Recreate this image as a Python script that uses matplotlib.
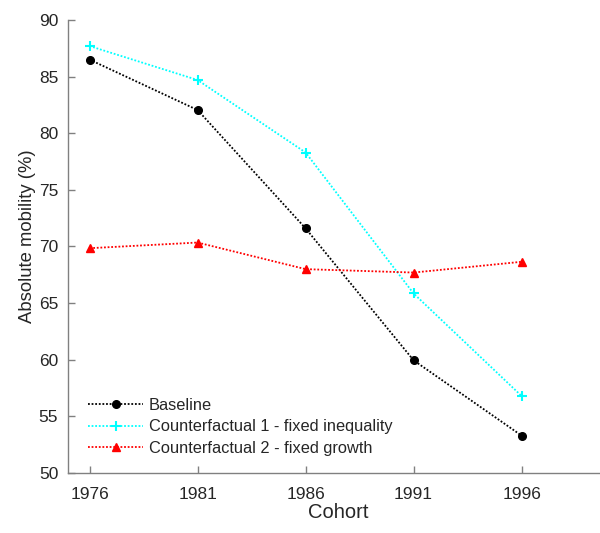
import matplotlib
matplotlib.use('Agg')
import matplotlib.pyplot as plt

plt.rcParams['font.family'] = ['Liberation Sans', 'DejaVu Sans']

# ==================== data ====================
cohorts = [1976, 1981, 1986, 1991, 1996]
baseline = [86.5, 82.05, 71.6, 59.95, 53.3]
cf1_fixed_inequality = [87.7, 84.7, 78.3, 65.85, 56.8]
cf2_fixed_growth = [69.85, 70.35, 68.0, 67.7, 68.65]

labels = ['Baseline',
          'Counterfactual 1 - fixed inequality',
          'Counterfactual 2 - fixed growth']

AX_GRAY = '#808080'
TXT_GRAY = '#262626'

fig = plt.figure(figsize=(6.0, 5.33), dpi=100)
# axes right edge runs past the figure (cropped like the reference)
ax = fig.add_axes([68 / 600, 1 - 473 / 533, 540 / 600, 453 / 533])

ls = (0, (1, 1))
ax.plot(cohorts, baseline, color='black', linestyle=ls, linewidth=1.3,
        marker='o', markersize=5.5, label=labels[0])
ax.plot(cohorts, cf1_fixed_inequality, color='cyan', linestyle=ls, linewidth=1.3,
        marker='+', markersize=7, markeredgewidth=1.5, label=labels[1])
ax.plot(cohorts, cf2_fixed_growth, color='red', linestyle=ls, linewidth=1.3,
        marker='^', markersize=6, label=labels[2])

ax.set_xlim(1975, 2000)
ax.set_ylim(50, 90)
ax.set_xticks(cohorts)
ax.set_yticks(range(50, 91, 5))

for side in ['top', 'right']:
    ax.spines[side].set_visible(False)
for side in ['left', 'bottom']:
    ax.spines[side].set_color(AX_GRAY)
    ax.spines[side].set_linewidth(1.0)

ax.tick_params(direction='in', length=5, width=1.0, color=AX_GRAY,
               labelsize=12.5, labelcolor=TXT_GRAY, pad=7)
ax.tick_params(axis='x', pad=10)

ax.set_xlabel('Cohort', fontsize=14.5, color=TXT_GRAY, labelpad=1)
ax.set_ylabel('Absolute mobility (%)', fontsize=13.3, color=TXT_GRAY)
ax.yaxis.set_label_coords(-32 / 540, (473 - 236) / 453)

leg = ax.legend(loc='lower left', bbox_to_anchor=(0.025, 0.023), frameon=False,
                fontsize=11.8, handlelength=3.35, handletextpad=0.37,
                labelspacing=0.41, borderaxespad=0)
for t in leg.get_texts():
    t.set_color(TXT_GRAY)

fig.savefig('out.png', dpi=100)
